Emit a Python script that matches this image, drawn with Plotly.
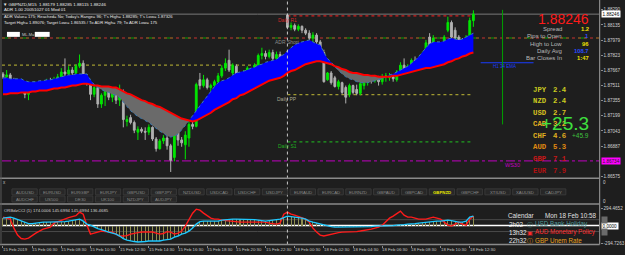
import plotly.graph_objects as go
import numpy as np

# ---------------- data ----------------
bar_index = list(range(130))

open_ = [1.8763,1.8760,1.8762,1.8757,1.8753,1.8748,1.8750,1.8742,1.8747,1.8751,
 1.8752,1.8750,1.8753,1.8756,1.8754,1.8757,1.8760,1.8765,1.8763,1.8767,
 1.8764,1.8771,1.8774,1.8759,1.8754,1.8742,1.8749,1.8732,1.8741,1.8745,
 1.8739,1.8743,1.8736,1.8745,1.8714,1.8718,1.8713,1.8703,1.8706,1.8704,
 1.8703,1.8708,1.8696,1.8686,1.8694,1.8697,1.8689,1.8677,1.8704,1.8695,
 1.8690,1.8697,1.8711,1.8709,1.8757,1.8751,1.8757,1.8749,1.8751,1.8755,
 1.8761,1.8769,1.8777,1.8764,1.8771,1.8757,1.8755,1.8762,1.8767,1.8763,
 1.8771,1.8782,1.8784,1.8781,1.8785,1.8779,1.8783,1.8779,1.88236,1.8811,
 1.8813,1.8809,1.8812,1.8808,1.8805,1.8800,1.8803,1.8796,1.8785,1.8757,
 1.8764,1.8759,1.8750,1.8754,1.8749,1.8742,1.8751,1.8747,1.8743,1.8751,
 1.8755,1.8758,1.8756,1.8759,1.8755,1.8760,1.8759,1.8760,1.8757,1.8765,
 1.8772,1.8767,1.8770,1.8777,1.8774,1.8775,1.8783,1.8801,1.8793,1.8788,
 1.8791,1.8790,1.8808,1.8816,1.8808,1.8801,1.8798,1.8790,1.8800,1.88179]

high = [1.8765,1.8767,1.8764,1.8759,1.8755,1.8752,1.8751,1.8749,1.8753,1.8755,
 1.8754,1.8756,1.8758,1.8759,1.8760,1.8763,1.8769,1.8779,1.8771,1.8770,
 1.8773,1.8783,1.8777,1.8763,1.8755,1.8752,1.8751,1.8743,1.8749,1.8747,
 1.8749,1.8747,1.8752,1.8747,1.8720,1.8721,1.8715,1.8709,1.8708,1.8708,
 1.8711,1.8709,1.8698,1.8696,1.8700,1.8699,1.8691,1.8706,1.8706,1.8698,
 1.8704,1.8714,1.8716,1.8754,1.8764,1.8762,1.8759,1.8753,1.8757,1.8764,
 1.8772,1.8779,1.8788,1.8774,1.8773,1.8761,1.8767,1.8771,1.8769,1.8774,
 1.8784,1.8790,1.8787,1.8788,1.8788,1.8786,1.8786,1.8782,1.8825,1.8816,
 1.8815,1.8814,1.8813,1.8810,1.8808,1.8806,1.8805,1.8798,1.8788,1.8765,
 1.8766,1.8761,1.8757,1.8755,1.8751,1.8753,1.8752,1.8752,1.8757,1.8758,
 1.8760,1.8761,1.8762,1.8761,1.8763,1.8764,1.8764,1.8763,1.8767,1.8775,
 1.8779,1.8773,1.8779,1.8781,1.8781,1.8786,1.8798,1.8805,1.8803,1.8792,
 1.8793,1.8803,1.8822,1.8818,1.8811,1.8803,1.8800,1.8803,1.8821,1.88285]

low = [1.8758,1.8757,1.8755,1.8751,1.8747,1.8745,1.8738,1.8736,1.8745,1.8748,
 1.8747,1.8749,1.8751,1.8752,1.8753,1.8756,1.8758,1.8759,1.8761,1.8761,
 1.8762,1.8769,1.8757,1.8751,1.8736,1.8739,1.8728,1.8728,1.8730,1.8736,
 1.8734,1.8732,1.8730,1.8708,1.8709,1.8711,1.8702,1.8695,1.8702,1.8695,
 1.8700,1.8694,1.8683,1.8685,1.8691,1.8685,1.8662,1.8673,1.8689,1.8688,
 1.8675,1.8688,1.8706,1.8708,1.8747,1.8749,1.8747,1.8744,1.8748,1.8752,
 1.8759,1.8766,1.8765,1.8762,1.8753,1.8751,1.8753,1.8758,1.8760,1.8762,
 1.8770,1.8778,1.8778,1.8779,1.8776,1.8777,1.8775,1.8767,1.8809,1.8808,
 1.8807,1.8807,1.8805,1.8803,1.8798,1.8796,1.8794,1.8779,1.8754,1.8756,
 1.8752,1.8749,1.8747,1.8742,1.87326,1.8739,1.8742,1.8741,1.8741,1.8747,
 1.8751,1.8753,1.8754,1.8751,1.8752,1.8755,1.8756,1.8755,1.8755,1.8763,
 1.8765,1.8764,1.8768,1.8771,1.8771,1.8773,1.8781,1.8790,1.8791,1.8785,
 1.8783,1.8788,1.8806,1.8799,1.8798,1.8794,1.8788,1.8788,1.8798,1.88115]

close = [1.8760,1.8762,1.8757,1.8753,1.8748,1.8750,1.8742,1.8747,1.8751,1.8752,
 1.8750,1.8753,1.8756,1.8754,1.8757,1.8760,1.8765,1.8763,1.8767,1.8764,
 1.8771,1.8774,1.8759,1.8754,1.8742,1.8749,1.8732,1.8741,1.8745,1.8739,
 1.8743,1.8736,1.8747,1.8716,1.8716,1.8713,1.8705,1.8706,1.8704,1.8703,
 1.8708,1.8696,1.8686,1.8694,1.8697,1.8689,1.8674,1.8704,1.8695,1.8692,
 1.8700,1.8711,1.8709,1.8752,1.8751,1.8757,1.8749,1.8751,1.8755,1.8761,
 1.8769,1.8774,1.8767,1.8772,1.8755,1.8753,1.8764,1.8769,1.8763,1.8772,
 1.8782,1.8784,1.8781,1.8785,1.8779,1.8783,1.8779,1.8770,1.8811,1.8813,
 1.8809,1.8812,1.8808,1.8805,1.8800,1.8803,1.8796,1.8783,1.8755,1.8764,
 1.8754,1.8750,1.8755,1.8744,1.8739,1.8751,1.8744,1.8743,1.8753,1.8755,
 1.8758,1.8756,1.8759,1.8755,1.8760,1.8761,1.8761,1.8758,1.8765,1.8772,
 1.8767,1.8771,1.8777,1.8774,1.8777,1.8783,1.8795,1.8793,1.8800,1.8790,
 1.8785,1.8801,1.8816,1.8801,1.8800,1.8796,1.8790,1.8801,1.8818,1.88246]

slow_ma = [1.8742,1.8742,1.8743,1.8743,1.8743,1.8744,1.8744,1.8744,1.8745,1.8745,
 1.8746,1.8746,1.8746,1.8747,1.8748,1.8748,1.8749,1.8749,1.8750,1.8751,
 1.8751,1.8752,1.8753,1.8753,1.8752,1.8751,1.8751,1.8750,1.8750,1.8750,
 1.8749,1.8749,1.8747,1.8745,1.8743,1.8742,1.8740,1.8738,1.8736,1.8735,
 1.8733,1.8732,1.8730,1.8729,1.8727,1.8725,1.8723,1.8721,1.8719,1.8717,
 1.8716,1.8715,1.8714,1.8715,1.8717,1.8719,1.8721,1.8723,1.8726,1.8728,
 1.8730,1.8732,1.8734,1.8737,1.8738,1.8741,1.8742,1.8744,1.8746,1.8748,
 1.8750,1.8752,1.8754,1.8756,1.8757,1.8758,1.8759,1.8761,1.8764,1.8766,
 1.8767,1.8769,1.8771,1.8773,1.8774,1.8775,1.8776,1.8776,1.8775,1.8774,
 1.8773,1.8771,1.8770,1.8768,1.8767,1.8765,1.8764,1.8764,1.8763,1.8762,
 1.8762,1.8761,1.8761,1.8760,1.8760,1.8760,1.8760,1.8761,1.8761,1.8762,
 1.8763,1.8764,1.8765,1.8766,1.8767,1.8768,1.8769,1.8769,1.8770,1.8771,
 1.8772,1.8773,1.8775,1.8776,1.8778,1.8779,1.8781,1.8782,1.8784,1.8785]

fast_ma = [1.8759,1.8759,1.8758,1.8758,1.8758,1.8758,1.8756,1.8755,1.8755,1.8755,
 1.8756,1.8756,1.8757,1.8757,1.8758,1.8759,1.8760,1.8761,1.8762,1.8762,
 1.8763,1.8763,1.8763,1.8763,1.8757,1.8752,1.8749,1.8747,1.8745,1.8744,
 1.8742,1.8741,1.8739,1.8734,1.8729,1.8725,1.8722,1.8719,1.8717,1.8715,
 1.8713,1.8710,1.8707,1.8704,1.8702,1.8699,1.8698,1.8699,1.8701,1.8705,
 1.8710,1.8715,1.8720,1.8726,1.8731,1.8736,1.8741,1.8745,1.8750,1.8754,
 1.8756,1.8757,1.8759,1.8762,1.8764,1.8765,1.8766,1.8767,1.8769,1.8770,
 1.8772,1.8773,1.8775,1.8776,1.8777,1.8778,1.8781,1.8783,1.8787,1.8790,
 1.8793,1.8795,1.8796,1.8797,1.8798,1.8796,1.8794,1.8793,1.8785,1.8779,
 1.8775,1.8770,1.8766,1.8763,1.8760,1.8758,1.8757,1.8755,1.8754,1.8754,
 1.8754,1.8755,1.8756,1.8757,1.8758,1.8760,1.8762,1.8763,1.8765,1.8767,
 1.8769,1.8771,1.8774,1.8777,1.8781,1.8786,1.8790,1.8794,1.8796,1.8796,
 1.8796,1.8797,1.8799,1.8800,1.8799,1.8798,1.8799,1.8801,1.8803,1.8805]

cci_cyan = [126,134,143,126,101,84,59,34,34,42,
 59,59,59,59,59,59,59,67,76,84,
 92,109,76,25,8,-25,-50,-67,-92,-109,
 -126,-143,-176,-218,-244,-260,-269,-277,-277,-269,
 -260,-260,-260,-260,-244,-235,-227,-193,-176,-143,
 -126,-92,-42,25,67,76,76,76,76,76,
 92,101,109,109,109,109,109,109,109,101,
 92,84,76,84,92,101,109,134,160,151,
 143,143,126,109,76,59,42,25,8,-8,
 -17,-25,-25,-25,-25,-25,-25,-25,-25,-25,
 -25,-17,-8,-8,-8,-8,0,0,8,8,
 17,25,25,34,42,50,59,59,67,76,
 76,84,92,84,67,59,59,76,143,160]

cci_red = [143,126,109,-42,-160,-218,-227,-210,-160,-126,
 -92,-59,-42,-25,42,67,92,118,134,151,
 168,227,193,8,-143,-126,-109,-92,-101,-109,
 -109,-143,-176,-176,-168,-143,-126,-118,-109,-109,
 -109,-109,-126,-143,-134,-101,-109,-143,-126,-92,
 -8,109,210,277,260,210,160,126,109,109,
 92,84,76,67,59,59,59,59,59,59,
 59,59,59,42,34,25,42,193,227,193,
 176,151,126,109,59,-42,-109,-160,-176,-160,
 -143,-126,-118,-109,-109,-109,-109,-101,-92,-84,
 -76,-59,-42,-25,8,76,126,160,210,244,
 176,143,143,126,109,109,109,126,143,126,
 109,59,8,-8,25,59,25,8,109,160]

time_label_bars = [0, 8, 16, 24, 32, 40, 48, 56, 64, 72, 80, 88, 96, 104, 112, 120, 128]
time_labels = ["15 Feb 2019", "15 Feb 06:30", "15 Feb 08:30", "15 Feb 10:30", "15 Feb 12:30",
               "15 Feb 14:30", "15 Feb 16:30", "15 Feb 18:30", "15 Feb 20:30", "15 Feb 22:30",
               "18 Feb 00:30", "18 Feb 02:30", "18 Feb 04:30", "18 Feb 06:30", "18 Feb 08:30",
               "18 Feb 10:30", "18 Feb 12:30"]

price_ticks = [1.88290, 1.88135, 1.87979, 1.87823, 1.87667, 1.87511, 1.87355,
               1.87199, 1.87043, 1.86887, 1.86575]
cci_ticks = [294.4652, -294.7263]
cci_levels = [100, -100]

bid_price = 1.88246
ws30_level = 1.86734
adr_short_level = 1.88000
prev_pp_level = 1.87720
daily_names = ["Daily R1", "Daily PP", "Daily S1"]
daily_levels = [1.88227, 1.87417, 1.86930]
daily_colors = ["#d02828", "#a8a890", "#20b020"]
daily_line_colors = ["#d02020", "#a09a30", "#20a020"]
h1_ema_level = 1.87745
day_start_bar = 78
future_line_bar = 137

stats_labels = ["Spread", "Pips to Open", "High to Low", "Daily Avg", "Bar Closes In"]
stats_values = ["1.2", "1", "96", "108.7", "1:47"]
stats_colors = ["#f0e000", "#2a4cff", "#f0e000", "#2a4cff", "#f0e000"]

currencies = ["JPY", "NZD", "USD", "CAD", "CHF", "AUD", "GBP", "EUR"]
strength = [2.4, 2.4, 2.7, 3.2, 4.6, 5.3, 7.1, 7.9]
strength_colors = ["#c8c820", "#c8c820", "#d8c020", "#e0b020", "#e0b020", "#e08a10", "#c81818", "#b01010"]

buttons_row1 = ["AUDUSD", "EURUSD", "EURGBP", "EURJPY", "GBPUSD", "GBPJPY", "NZDUSD", "USDCAD",
                "USDCHF", "USDJPY", "EURAUD", "EURCAD", "EURNZD", "GBPAUD", "GBPCAD", "GBPNZD",
                "GBPCHF", "XTIUSD", "XAUUSD", "CADJPY"]
buttons_row2 = ["AUDCHF", "US500", "DE30", "UK100", "NZDJPY", "AUDJPY"]
active_symbol = "GBPNZD"

cal_times = ["2h02", "13h32", "22h32"]
cal_events = ["USD Bank Holiday", "AUD Monetary Policy", "GBP Unem Rate"]
cal_colors = ["#4f9a9a", "#ff2a2a", "#e8a020"]
cal_icons = ["\u24d8", "\u25a3", "\u24d8"]

# ---------------- geometry helpers (page pixels) ----------------
W, H = 625, 255
BAR_PX, X0_PX = 3.67, 3.0
def fx(px): return px / W
def fy(py): return 1 - py / H

X_DOM = [fx(2), fx(603.5)]
X_RANGE = [(2 - X0_PX) / BAR_PX, (603.5 - X0_PX) / BAR_PX]
Y_MAIN_DOM = [fy(179), 1.0]
Y_MAIN_RANGE = [1.86555, 1.883915]
Y_CCI_DOM = [fy(245.5), fy(205.5)]
Y_CCI_RANGE = [-319.2, 352.8]

BG = "#1e1e1e"
FONT = "Liberation Sans"

slow = np.array(slow_ma)
fast = np.array(fast_ma)
blue_top = np.maximum(fast, slow)
gray_bot = np.minimum(fast, slow)

fig = go.Figure()
# MA cloud
fig.add_trace(go.Scatter(x=bar_index, y=slow, mode="lines", line=dict(width=0), hoverinfo="skip", showlegend=False))
fig.add_trace(go.Scatter(x=bar_index, y=blue_top, mode="lines", line=dict(width=0), fill="tonexty",
                         fillcolor="#0000ff", hoverinfo="skip", showlegend=False))
fig.add_trace(go.Scatter(x=bar_index, y=slow, mode="lines", line=dict(width=0), hoverinfo="skip", showlegend=False))
fig.add_trace(go.Scatter(x=bar_index, y=gray_bot, mode="lines", line=dict(width=0), fill="tonexty",
                         fillcolor="#6a6a6a", hoverinfo="skip", showlegend=False))
fig.add_trace(go.Scatter(x=bar_index, y=fast, mode="lines", line=dict(width=1, color="#3a7ab0", dash="dot"),
                         hoverinfo="skip", showlegend=False))
fig.add_trace(go.Scatter(x=bar_index, y=slow, mode="lines", line=dict(width=2, color="#ff0000"),
                         hoverinfo="skip", showlegend=False))
# candles
fig.add_trace(go.Candlestick(x=bar_index, open=open_, high=high, low=low, close=close,
                             increasing=dict(line=dict(color="#00e600", width=1), fillcolor="#00e600"),
                             decreasing=dict(line=dict(color="#b0b0b0", width=1), fillcolor="#b0b0b0"),
                             whiskerwidth=0, hoverinfo="skip", showlegend=False))
# CCI panel
fig.add_trace(go.Bar(x=bar_index, y=cci_cyan, xaxis="x2", yaxis="y2", marker=dict(color="#8e8e50", line=dict(width=0)),
                     width=0.28, hoverinfo="skip", showlegend=False))
fig.add_trace(go.Scatter(x=bar_index, y=cci_red, xaxis="x2", yaxis="y2", mode="lines",
                         line=dict(color="#ff1a1a", width=1.4), hoverinfo="skip", showlegend=False))
fig.add_trace(go.Scatter(x=bar_index, y=cci_cyan, xaxis="x2", yaxis="y2", mode="lines",
                         line=dict(color="#1ec8ff", width=1.4), hoverinfo="skip", showlegend=False))

shapes = []
def hline(y, color, dash="solid", width=1, x0=0, x1=1, xref="x domain", yref="y"):
    shapes.append(dict(type="line", xref=xref, yref=yref, x0=x0, x1=x1, y0=y, y1=y,
                       line=dict(color=color, width=width, dash=dash), layer="below"))

hline(bid_price, "#7a7a7a")
hline(adr_short_level, "#00a000", "dash", 1)
hline(adr_short_level, "#c83030", "dot", 1)
hline(ws30_level, "#c000c0", "dashdot", 1)
hline(prev_pp_level, "#a09a30", "dot", 1.2, x0=X_RANGE[0], x1=day_start_bar, xref="x")
for lv, c in zip(daily_levels, daily_line_colors):
    hline(lv, c, "dot", 1.2, x0=day_start_bar, x1=bar_index[-1], xref="x")
hline(h1_ema_level, "#1a3cff", "solid", 1.2, x0=131, x1=145.5, xref="x")
# future vertical green line
shapes.append(dict(type="line", xref="x", yref="y", x0=future_line_bar, x1=future_line_bar,
                   y0=1.88290, y1=1.87110, line=dict(color="#00a000", width=1)))
# day separator
shapes.append(dict(type="line", xref="x", yref="paper", x0=day_start_bar, x1=day_start_bar,
                   y0=fy(245.5), y1=1, line=dict(color="#c8c8c8", width=1, dash="dot")))
# CCI zero & levels
hline(0, "#ffffff", "solid", 1.5, xref="x2 domain", yref="y2")
for lv in cci_levels:
    hline(lv, "#4a4a4a", "solid", 1, xref="x2 domain", yref="y2")
# panel borders
for py in [179, 204.8, 245.5]:
    shapes.append(dict(type="line", xref="paper", yref="paper", x0=0, x1=fx(603.5), y0=fy(py), y1=fy(py),
                       line=dict(color="#8a8a8a", width=1.4)))
shapes.append(dict(type="line", xref="paper", yref="paper", x0=fx(603.5), x1=fx(603.5), y0=fy(245.5), y1=1,
                   line=dict(color="#8a8a8a", width=1.2)))
shapes.append(dict(type="line", xref="paper", yref="paper", x0=fx(1), x1=fx(1), y0=fy(245.5), y1=1,
                   line=dict(color="#5a5a5a", width=1)))

annotations = []
def ann(text, px, py, size=5, color="#d0d0d0", xanchor="left", bold=False, family=FONT, **kw):
    if bold:
        text = "<b>" + text + "</b>"
    annotations.append(dict(text=text, xref="paper", yref="paper", x=fx(px), y=fy(py), xanchor=xanchor,
                            yanchor="middle", showarrow=False, font=dict(size=size, color=color, family=family),
                            borderpad=0, **kw))

# buttons
def button(label, px0, py0, pw=25.5, ph=6.0):
    shapes.append(dict(type="rect", xref="paper", yref="paper", x0=fx(px0), x1=fx(px0 + pw),
                       y0=fy(py0 + ph), y1=fy(py0), fillcolor="#272727", line=dict(color="#3e3e3e", width=0.8)))
    col = "#e8e800" if label == active_symbol else "#8a8a8a"
    ann(label, px0 + pw / 2, py0 + ph / 2 + 0.2, size=4.3, color=col, xanchor="center", bold=(label == active_symbol))

for k, b in enumerate(buttons_row1):
    button(b, 12 + k * 28.0, 189.6)
for k, b in enumerate(buttons_row2):
    button(b, 12 + k * 28.0, 196.8)

# top-left info
ann("\u25bc GBPNZD,M15  1.88179 1.88285 1.88115 1.88246", 2, 4.5, 4.4, "#e8e8e8")
ann("ADR 1.00 20051027 01 Mod 01", 3, 10, 4.4, "#e8e8e8")
ann("ADR Value= 175; Reached= No; Today's Range= 96; T's High= 1.88285; T's Low= 1.87326", 3, 16.5, 4.2, "#e8e8e8")
ann("Target High= 1.89076; Target Low= 1.86535 / To ADR High= 79; To ADR Low= 175", 3, 22.5, 4.2, "#e8e8e8")
for bx in [(7, 20), (35, 50)]:
    shapes.append(dict(type="rect", xref="paper", yref="paper", x0=fx(bx[0]), x1=fx(bx[1]), y0=fy(37), y1=fy(32),
                       fillcolor="#ffffff", line=dict(width=0)))
ann("ML.Mu", 21, 34.5, 4, "#c8c8c8")

# level labels
for name, lv, c in zip(daily_names, daily_levels, daily_colors):
    annotations.append(dict(text=name, xref="x", yref="y", x=day_start_bar, y=lv, xanchor="center", yanchor="top",
                            yshift=-0.5, showarrow=False, font=dict(size=5, color=c, family=FONT), borderpad=0))
annotations.append(dict(text="ADR Short", xref="x", yref="y", x=day_start_bar, y=adr_short_level, xanchor="center",
                        yanchor="top", showarrow=False, font=dict(size=5, color="#8a8a8a", family=FONT), borderpad=0))
annotations.append(dict(text="H1 34 EMA", xref="x", yref="y", x=137.5, y=h1_ema_level, xanchor="center",
                        yanchor="top", showarrow=False, font=dict(size=4.5, color="#1a3cff", family=FONT), borderpad=0))
annotations.append(dict(text="WS30", xref="x", yref="y", x=137.5, y=ws30_level, xanchor="left", yanchor="top",
                        showarrow=False, font=dict(size=5.5, color="#c000c0", family=FONT), borderpad=0))

# right info panel
ann(f"{bid_price:.5f}", 594, 19.5, 14, "#ff1a1a", xanchor="right")
for k, (lab, val, c) in enumerate(zip(stats_labels, stats_values, stats_colors)):
    py = 29 + k * 7.4
    ann(lab, 567, py, 6.0, "#b8b8b8", xanchor="right")
    ann(val, 594, py, 5.8, c, xanchor="right", bold=True)
for k, (cur, s, c) in enumerate(zip(currencies, strength, strength_colors)):
    py = 90 + k * 11.6
    ann(cur, 535, py, 7.3, c, bold=True, family="Liberation Mono")
    ann(f"{s:.1f}", 556, py, 7.3, c, bold=True, family="Liberation Mono")
ann("+25.3", 594, 124, 19, "#3ee03e", xanchor="right")
ann("+45.9", 594, 136, 6.5, "#3ec03e", xanchor="right")

# calendar
ann("Calendar", 510, 216, 6.3, "#e0e0e0")
ann("Mon 18 Feb 10:58", 602, 216, 6.3, "#e0e0e0", xanchor="right")
for k, (t, ev, c, ic) in enumerate(zip(cal_times, cal_events, cal_colors, cal_icons)):
    py = 225 + k * 8.4
    ann(t, 511, py, 6.3, "#e8e8e8")
    ann(ic, 529, py, 6.0, c, family="DejaVu Sans")
    ann(ev, 537, py, 6.3, c)

# CCI title and misc
ann("ORBdzCCI (1) 174.0006 145.6994 145.6994 136.4685", 3, 211, 4.3, "#d0d0d0")
ann("x", 2, 183, 4.5, "#c0c0c0")
ann("0", 606, 183, 4.5, "#d0d0d0")
ann("0", 606, 202.5, 4.5, "#d0d0d0")

# time labels
for b, t in zip(time_label_bars, time_labels):
    annotations.append(dict(text=t, xref="x2", yref="paper", x=b, y=fy(250.5), xanchor="left", yanchor="middle",
                            xshift=-1, showarrow=False, font=dict(size=4.3, color="#c8c8c8", family=FONT), borderpad=0))

# axis boxes
annotations.append(dict(text=f"{bid_price:.5f}", xref="paper", yref="y", x=fx(605), y=bid_price, xanchor="left",
                        yanchor="middle", showarrow=False, bgcolor="#ffffff", borderpad=0.6,
                        font=dict(size=4.6, color="#000000", family=FONT)))
annotations.append(dict(text=f"{ws30_level:.5f}", xref="paper", yref="y", x=fx(605), y=ws30_level, xanchor="left",
                        yanchor="middle", showarrow=False, bgcolor="#ff00ff", borderpad=0.6,
                        font=dict(size=4.6, color="#202020", family=FONT)))
annotations.append(dict(text="0.0000", xref="paper", yref="y2", x=fx(605), y=0, xanchor="left",
                        yanchor="middle", showarrow=False, bgcolor="#ffffff", borderpad=0.6,
                        font=dict(size=4.6, color="#000000", family=FONT)))
for lv in cci_levels:
    annotations.append(dict(text="   ", xref="paper", yref="y2", x=fx(605), y=lv, xanchor="left",
                            yanchor="middle", showarrow=False, bgcolor="#6a6a6a", borderpad=0.6,
                            font=dict(size=4.6, color="#000000", family=FONT)))

axis_common = dict(showgrid=False, zeroline=False, fixedrange=True)
fig.update_layout(
    width=W, height=H, margin=dict(l=0, r=0, t=0, b=0),
    paper_bgcolor=BG, plot_bgcolor=BG, showlegend=False, dragmode=False,
    xaxis=dict(domain=X_DOM, range=X_RANGE, anchor="y", showticklabels=False, ticks="",
               rangeslider=dict(visible=False), **axis_common),
    yaxis=dict(domain=Y_MAIN_DOM, range=Y_MAIN_RANGE, anchor="x", side="right",
               tickvals=price_ticks, ticktext=[f"{v:.5f}" for v in price_ticks],
               ticks="outside", ticklen=2, tickcolor="#8a8a8a",
               tickfont=dict(size=4.6, color="#d0d0d0", family=FONT), **axis_common),
    xaxis2=dict(domain=X_DOM, range=X_RANGE, anchor="y2", showticklabels=False,
                tickvals=time_label_bars, ticks="outside", ticklen=2, tickcolor="#8a8a8a", **axis_common),
    yaxis2=dict(domain=Y_CCI_DOM, range=Y_CCI_RANGE, anchor="x2", side="right",
                tickvals=cci_ticks, ticktext=[f"{v:.4f}" for v in cci_ticks],
                ticks="outside", ticklen=2, tickcolor="#8a8a8a",
                tickfont=dict(size=4.6, color="#d0d0d0", family=FONT), **axis_common),
    shapes=shapes, annotations=annotations, bargap=0,
)

fig.write_html("out.html", config={"displayModeBar": False, "staticPlot": True},
               post_script="document.body.style.margin='0';")
